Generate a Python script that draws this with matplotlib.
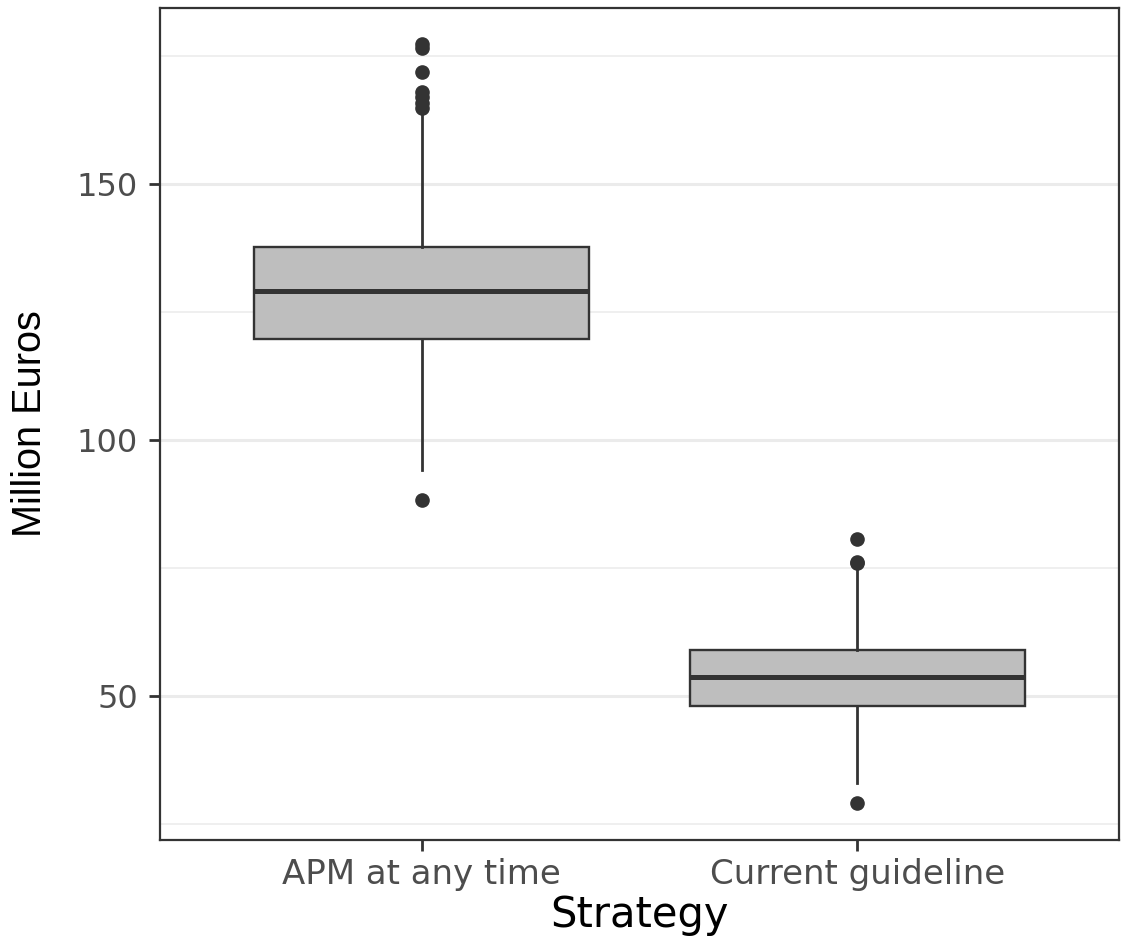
import matplotlib.pyplot as plt

plt.rcParams["font.family"] = ["DejaVu Sans"]

strategies = ["APM at any time", "Current guideline"]
q1 = [119.7, 48.0]
medians = [129.1, 53.7]
q3 = [137.7, 59.0]
whisker_low = [94.1, 33.0]
whisker_high = [163.9, 75.5]
outliers = [
    [88.3, 164.8, 165.8, 167.0, 168.0, 171.9, 176.6, 177.3],
    [29.1, 76.0, 76.2, 80.7],
]

stats = []
for i, name in enumerate(strategies):
    stats.append({
        "label": name,
        "q1": q1[i],
        "med": medians[i],
        "q3": q3[i],
        "whislo": whisker_low[i],
        "whishi": whisker_high[i],
        "fliers": outliers[i],
    })

fig = plt.figure(figsize=(11.21, 9.43), dpi=100)
ax = fig.add_axes([160 / 1121, 103 / 943, 959 / 1121, 832 / 943])

dark = "#333333"
ax.bxp(
    stats,
    positions=[1, 2],
    widths=0.77,
    patch_artist=True,
    showcaps=False,
    boxprops=dict(facecolor="#BEBEBE", edgecolor=dark, linewidth=1.7),
    medianprops=dict(color=dark, linewidth=3.6),
    whiskerprops=dict(color=dark, linewidth=2.0),
    flierprops=dict(marker="o", markerfacecolor=dark, markeredgecolor=dark,
                    markersize=9.5, linestyle="none"),
    zorder=3,
)

ax.set_xlim(0.4, 2.6)
ax.set_ylim(21.9, 184.4)
ax.set_yticks([50, 100, 150])
ax.set_yticks([25, 75, 125, 175], minor=True)
ax.grid(True, which="major", axis="y", color="#EBEBEB", linewidth=2.2, zorder=0)
ax.grid(True, which="minor", axis="y", color="#EBEBEB", linewidth=1.1, zorder=0)
ax.set_axisbelow(True)

for s in ax.spines.values():
    s.set_color(dark)
    s.set_linewidth(1.6)

ax.tick_params(axis="both", which="major", length=8, width=2, color=dark,
               labelsize=23, labelcolor="#4D4D4D", pad=8)
ax.tick_params(axis="x", which="major", labelsize=24.5, pad=5)
ax.tick_params(axis="y", which="minor", length=0)
ax.set_xticks([1, 2])
ax.set_xticklabels(strategies)

ax.set_xlabel("Strategy", fontsize=30, color="black", labelpad=2)
ax.set_ylabel("Million Euros", fontsize=28.5, color="black", labelpad=20,
              family="Liberation Sans")

fig.savefig("out.png", dpi=100, facecolor="white")
